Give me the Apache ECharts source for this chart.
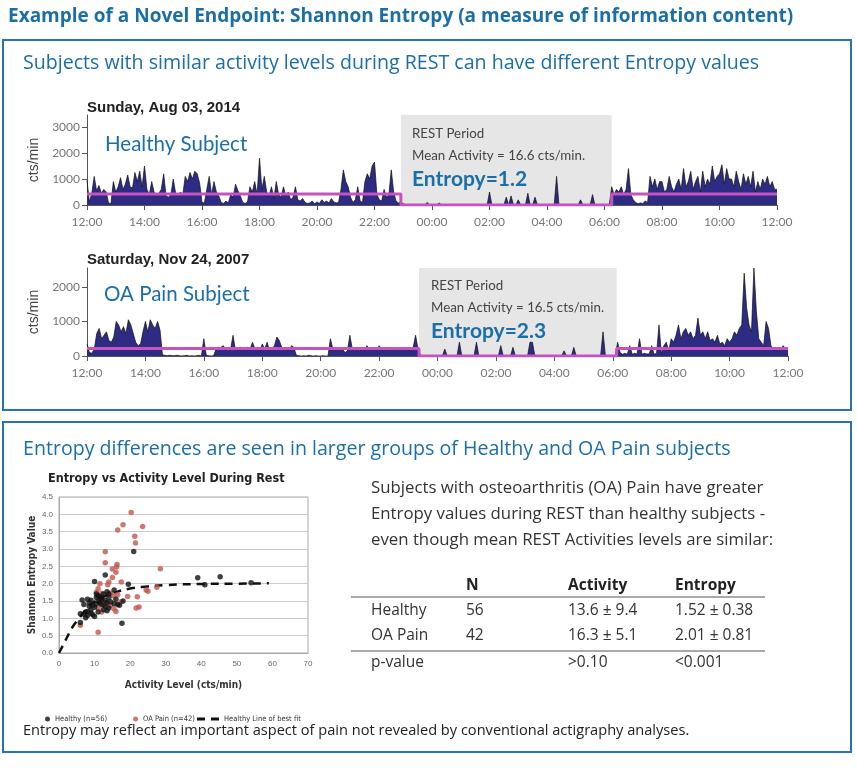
<!DOCTYPE html>
<html>
<head>
<meta charset="utf-8">
<script src="https://cdn.jsdelivr.net/npm/echarts@6/dist/echarts.min.js"></script>
<style>html,body{margin:0;padding:0;background:#fff;}#c{width:857px;height:768px;}</style>
</head>
<body>
<div id="c"></div>
<script>
// ---------- DATA ----------
const timeLabels = ['12:00','14:00','16:00','18:00','20:00','22:00','00:00','02:00','04:00','06:00','08:00','10:00','12:00'];
// Healthy subject activity, 5-minute bins from 12:00 to 12:00 next day (cts/min)
const healthyActivity = [
950,120,450,1100,550,750,450,600,500,80,50,900,
500,700,1050,600,800,1150,700,650,1250,900,1300,700,
1500,600,400,900,500,350,450,600,1200,350,300,400,
1000,450,350,500,400,1100,900,1250,1000,1300,1200,850,
100,80,600,1100,400,900,500,350,100,60,150,80,
400,300,800,550,350,100,60,120,700,500,900,400,
1800,600,1100,500,350,700,250,900,400,300,700,350,
500,200,300,700,200,150,250,100,60,80,150,50,
120,60,200,100,150,80,250,120,80,100,600,1350,
900,700,300,100,200,700,150,100,900,1200,1000,1500,
1650,400,200,150,600,300,400,1350,500,150,80,100,
50,20,0,0,0,0,0,0,0,0,100,0,
0,0,0,80,0,0,0,0,0,0,0,0,
0,0,0,0,0,0,0,0,0,0,0,0,
500,0,0,0,0,0,0,300,0,350,0,0,
200,0,0,0,450,0,0,300,0,0,0,0,
0,0,0,0,1100,0,0,0,0,0,0,0,
0,0,200,0,0,0,0,400,0,0,0,0,
0,0,0,700,400,600,500,700,400,600,1400,400,
200,100,50,80,60,150,100,1100,700,1000,600,900,
900,500,600,1100,700,500,800,1000,600,1400,700,900,
1300,600,900,1100,500,1300,700,1000,800,1500,900,1100,
1200,1550,800,1400,1000,1000,700,1300,900,600,1200,800,
1100,700,1300,500,900,600,1000,800,1100,700,900,600,
600];
// OA pain subject activity, 5-minute bins
const oaActivity = [
350,100,80,200,650,800,500,600,700,450,400,550,
1000,900,700,850,650,1050,900,650,400,300,350,700,
1000,700,1050,900,800,1000,750,30,20,10,20,10,
10,20,10,0,10,20,0,10,0,10,20,0,
500,20,10,0,10,200,150,250,300,180,150,200,
600,150,200,250,200,150,250,200,400,200,250,150,
350,200,400,150,200,300,550,450,250,200,200,150,
300,250,20,10,0,10,0,20,10,0,10,0,
0,10,0,0,500,200,150,250,150,200,100,150,
600,200,150,200,150,250,150,300,200,150,250,150,
300,200,150,200,150,250,200,150,200,250,200,150,
200,150,250,600,200,30,0,0,0,0,0,0,
0,0,0,200,0,0,0,0,0,400,0,0,
0,0,0,0,400,0,0,0,0,0,0,0,
0,0,300,0,0,0,0,250,0,0,0,0,
0,0,400,400,0,0,0,0,0,0,0,0,
0,0,0,0,150,0,0,0,250,0,0,0,
0,0,0,0,0,0,0,0,700,0,0,0,
0,0,400,100,50,80,50,300,50,80,60,500,
50,80,60,60,300,50,80,900,60,300,400,150,
500,400,600,900,500,700,800,600,700,500,600,1100,
600,700,500,700,450,500,400,600,350,400,300,500,
400,500,700,600,800,900,2400,1400,900,700,2550,1300,
500,400,300,1000,800,300,200,250,150,200,300,200,
200];
// REST period [start minute, end minute] after 12:00, and the active-period level line
const healthyRest = [655, 1095];
const oaRest = [682, 1088];
const healthyLevel = 420;
const oaLevel = 220;
const healthyYTicks = [0, 1000, 2000, 3000];
const oaYTicks = [0, 1000, 2000];

// Scatter: [activity level cts/min, Shannon entropy]
const healthyPts = [
[21,2.93],[13,2.25],[10,2.06],[39,2.17],[45.3,2.2],[54,2.03],[41,1.97],[19.5,1.98],
[15.5,1.82],[13.5,1.77],[14,1.7],[11,1.65],[10.5,1.6],[8,1.55],[6.5,1.53],[9,1.52],
[8.5,1.45],[12,1.55],[13,1.52],[14.5,1.48],[11.5,1.45],[9.5,1.38],[8.5,1.35],[10,1.32],
[12,1.4],[13,1.35],[14,1.3],[15.5,1.42],[16.5,1.4],[18,1.5],[12.5,1.25],[13.5,1.22],
[11,1.18],[9,1.15],[7.5,1.18],[6,1.13],[7,1.12],[8,1.08],[9.5,1.1],[10,1.05],
[7.5,1.02],[6,0.88],[17.7,0.86],[12,1.6],[10.5,1.7],[11.5,1.62],[9,1.25],[10.5,1.42],
[16,1.55],[17,1.38],[14,1.6],[12.5,1.7],[8,1.2],[11,1.5],[13.5,1.45],[7,1.4]];
const oaPts = [
[20.3,4.05],[18,3.7],[16.5,3.55],[23.5,3.65],[21.3,3.37],[21.5,3.17],[13,2.92],[13,2.6],
[16.3,2.55],[16.2,2.48],[15,2.42],[16,2.33],[28.5,2.43],[15,2.18],[14,2.05],[17.5,2.05],
[13.7,1.97],[11.5,2.0],[11,1.85],[10.5,1.75],[12,1.72],[14.5,1.72],[16.5,1.68],[19.3,1.63],
[22,1.62],[24.5,1.82],[25,1.78],[27.5,1.9],[15.3,1.65],[11.5,1.5],[13,1.45],[17.5,1.48],
[11,1.3],[12.5,1.38],[15.5,1.27],[16,1.2],[12,1.18],[21.7,1.3],[22.5,1.33],[6,0.8],
[11,0.6],[14.5,1.37]];
const fitX = [0,1,2,3,4,5,6,8,10,12,15,20,25,30,40,50,59];
const fitY = [0,0.2,0.4,0.6,0.78,0.92,1.05,1.3,1.48,1.6,1.72,1.86,1.92,1.96,1.99,2.0,2.01];

const tableHeader = ['N','Activity','Entropy'];
const tableRows = [
  ['Healthy','56','13.6 \u00b1 9.4','1.52 \u00b1 0.38'],
  ['OA Pain','42','16.3 \u00b1 5.1','2.01 \u00b1 0.81'],
  ['p-value','','>0.10','<0.001']
];

// ---------- CHART ----------
const BLUE = '#1b6fa8';
const chart = echarts.init(document.getElementById('c'), null, {renderer:'canvas'});

function toSeries(arr){ return arr.map((v,i)=>[i*5, v]); }
function stepLine(rest, level){ return [[0,level],[rest[0],level],[rest[0],0],[rest[1],0],[rest[1],level],[1440,level]]; }

function timeX(grid){
  return {type:'value', gridIndex:grid, min:0, max:1440, interval:120,
    axisLine:{lineStyle:{color:'#555'}}, axisTick:{length:5, lineStyle:{color:'#555'}},
    axisLabel:{formatter:v=>timeLabels[Math.round(v/120)], color:'#777', fontSize:12, fontFamily:'Lato', margin:11},
    splitLine:{show:false}};
}
function actY(grid, max, ticks){
  return {type:'value', gridIndex:grid, min:0, max:max, interval:1000,
    name:'cts/min', nameLocation:'middle', nameGap:30,
    nameTextStyle:{fontSize:14, color:'#444', fontFamily:'Liberation Sans'},
    axisLine:{show:true, lineStyle:{color:'#555'}},
    axisTick:{show:true, length:5, customValues:ticks, lineStyle:{color:'#555'}},
    axisLabel:{customValues:ticks, formatter:v=>String(v), color:'#777', fontSize:12, fontFamily:'Lato', margin:7},
    splitLine:{show:false}};
}
function actSeries(gi, data, rest, level, max){
  return [
    {type:'line', xAxisIndex:gi, yAxisIndex:gi, data:[], z:1, silent:true,
     markArea:{silent:true, itemStyle:{color:'#e6e6e6'}, data:[[{xAxis:rest[0], yAxis:0},{xAxis:rest[1], yAxis:max}]]}},
    {type:'line', xAxisIndex:gi, yAxisIndex:gi, data:toSeries(data), z:2, symbol:'none', silent:true,
     lineStyle:{color:'#111', width:0.7}, areaStyle:{color:'#2d2b84', opacity:1}},
    {type:'line', xAxisIndex:gi, yAxisIndex:gi, data:stepLine(rest, level), z:3, symbol:'none', silent:true,
     lineStyle:{color:'#c653c0', width:3}}
  ];
}

const g = [];
function txt(x, y, text, font, fill, align){
  g.push({type:'text', x:x, y:y, z:10, silent:true,
    style:{text:text, font:font, fill:fill, textAlign:align||'left', textVerticalAlign:'middle', verticalAlign:'middle'}});
}
function line(x1,y1,x2,y2,color,w){
  g.push({type:'line', z:10, silent:true, shape:{x1,y1,x2,y2}, style:{stroke:color, lineWidth:w}});
}
// frames
g.push({type:'rect', z:0, silent:true, shape:{x:3,y:40,width:848,height:370}, style:{fill:'none', stroke:'#2574b3', lineWidth:2}});
g.push({type:'rect', z:0, silent:true, shape:{x:3,y:422,width:848,height:330}, style:{fill:'none', stroke:'#2574b3', lineWidth:2}});
// titles
txt(8, 17, 'Example of a Novel Endpoint: Shannon Entropy (a measure of information content)', 'bold 19px "Open Sans"', BLUE);
txt(23, 63, 'Subjects with similar activity levels during REST can have different Entropy values', '19.6px "Open Sans"', BLUE);
txt(23, 449, 'Entropy differences are seen in larger groups of Healthy and OA Pain subjects', '19.6px "Open Sans"', BLUE);
// chart annotations
txt(87, 108, 'Sunday, Aug 03, 2014', 'bold 15px "Liberation Sans"', '#222');
txt(87, 260, 'Saturday, Nov 24, 2007', 'bold 15px "Liberation Sans"', '#222');
txt(105, 144, 'Healthy Subject', '20.5px Lato', BLUE);
txt(104, 294, 'OA Pain Subject', '20.5px Lato', BLUE);
txt(412, 134, 'REST Period', '13.3px Lato', '#444');
txt(412, 156, 'Mean Activity = 16.6 cts/min.', '13.3px Lato', '#444');
txt(412, 179, 'Entropy=1.2', 'bold 21px Lato', BLUE);
txt(431, 286, 'REST Period', '13.3px Lato', '#444');
txt(431, 308, 'Mean Activity = 16.5 cts/min.', '13.3px Lato', '#444');
txt(431, 331, 'Entropy=2.3', 'bold 21px Lato', BLUE);
// scatter title
txt(48, 479, 'Entropy vs Activity Level During Rest', 'bold 12.5px "DejaVu Sans Condensed"', '#222');
// paragraph
txt(371, 488, 'Subjects with osteoarthritis (OA) Pain have greater', '16.8px "Open Sans"', '#333');
txt(371, 514, 'Entropy values during REST than healthy subjects -', '16.8px "Open Sans"', '#333');
txt(371, 540, 'even though mean REST Activities levels are similar:', '16.8px "Open Sans"', '#333');
// table
const colX = [371, 466, 568, 675];
tableHeader.forEach((h,i)=>txt(colX[i+1], 586, h, 'bold 15.5px "Open Sans"', '#222'));
line(351, 597, 765, 597, '#555', 1.2);
const rowY = [611, 636, 663];
tableRows.forEach((r,ri)=>r.forEach((c,ci)=>{ if(c) txt(colX[ci], rowY[ri], c, '15.5px "Open Sans"', '#333'); }));
line(351, 651, 765, 651, '#555', 1.2);
// footer
txt(23, 731, 'Entropy may reflect an important aspect of pain not revealed by conventional actigraphy analyses.', '14.6px "Open Sans"', '#222');

const legendText = {fontSize:7.5, color:'#333', fontFamily:'DejaVu Sans Condensed'};
const option = {
  backgroundColor:'#fff',
  animation:false,
  grid:[
    {left:87, top:115, width:690, height:90},
    {left:87, top:268, width:701, height:88},
    {left:59, top:497, width:249, height:156, show:true, borderColor:'#aaa', borderWidth:1}
  ],
  xAxis:[
    timeX(0), timeX(1),
    {type:'value', gridIndex:2, min:0, max:70, interval:10,
     name:'Activity Level (cts/min)', nameLocation:'middle', nameGap:27,
     nameTextStyle:{fontSize:10, fontWeight:'bold', color:'#333', fontFamily:'DejaVu Sans Condensed'},
     axisLine:{lineStyle:{color:'#aaa'}}, axisTick:{show:false},
     axisLabel:{color:'#666', fontSize:8, fontFamily:'Liberation Sans', margin:7}, splitLine:{show:false}}
  ],
  yAxis:[
    actY(0, 3460, healthyYTicks), actY(1, 2550, oaYTicks),
    {type:'value', gridIndex:2, min:0, max:4.5, interval:0.5,
     name:'Shannon Entropy Value', nameLocation:'middle', nameGap:22,
     nameTextStyle:{fontSize:10, fontWeight:'bold', color:'#333', fontFamily:'DejaVu Sans Condensed'},
     axisLine:{show:true, lineStyle:{color:'#aaa'}}, axisTick:{show:false},
     axisLabel:{formatter:v=>v.toFixed(1), color:'#666', fontSize:8, fontFamily:'Liberation Sans', margin:6},
     splitLine:{show:true, lineStyle:{color:'#ccc'}}}
  ],
  legend:[
    {left:40, top:710, itemWidth:5, itemHeight:5, itemGap:4, icon:'circle', textStyle:legendText,
     data:['Healthy (n=56)']},
    {left:128, top:710, itemWidth:5, itemHeight:5, itemGap:4, icon:'circle', textStyle:legendText,
     data:['OA Pain (n=42)']},
    {left:192, top:710, itemWidth:22, itemHeight:3, itemGap:4, textStyle:legendText,
     data:[{name:'Healthy Line of best fit', icon:'path://M0,0H8V3H0Z M14,0H22V3H14Z'}]}
  ],
  graphic:{elements:g},
  series:[
    ...actSeries(0, healthyActivity, healthyRest, healthyLevel, 3460),
    ...actSeries(1, oaActivity, oaRest, oaLevel, 2550),
    {name:'Healthy Line of best fit', type:'line', xAxisIndex:2, yAxisIndex:2, symbol:'none', z:3,
     data:fitX.map((x,i)=>[x, fitY[i]]), smooth:true, itemStyle:{color:'#111'},
     lineStyle:{color:'#111', width:2.5, type:[8,6]}},
    {name:'OA Pain (n=42)', type:'scatter', xAxisIndex:2, yAxisIndex:2, data:oaPts, symbolSize:5.5, z:4,
     itemStyle:{color:'#c0574f'}},
    {name:'Healthy (n=56)', type:'scatter', xAxisIndex:2, yAxisIndex:2, data:healthyPts, symbolSize:5.5, z:5,
     itemStyle:{color:'#111'}}
  ]
};
chart.setOption(option);
</script>
</body>
</html>
